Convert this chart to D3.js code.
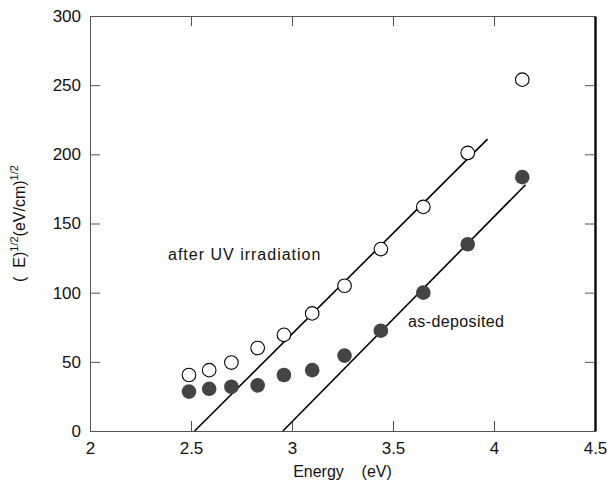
<!DOCTYPE html>
<html>
  <head>
    <meta charset="utf-8">
    <title>Absorption edge</title>
    <script src="https://cdn.jsdelivr.net/npm/d3@7"></script>
    <style>
      body { margin: 0; background: #fff; }
      text { font-family: "Liberation Sans", Arial, Helvetica, sans-serif; fill: #111; }
    </style>
  </head>
  <body>
    <div id="chart"></div>
    <script>
      // photon energy (eV) of each measured point
      var energy = [2.49, 2.59, 2.70, 2.83, 2.96, 3.10, 3.26, 3.44, 3.65, 3.87, 4.14];
      // (aE)^1/2 values
      var afterUV = [40.5, 44, 49.5, 60, 69.5, 85, 105, 131.5, 162, 201, 254];
      var asDeposited = [28.5, 30.5, 32, 33, 40.5, 44, 54.5, 72.5, 100, 135, 183.5];
      // straight line fits [energy, value]
      var fitUV = [[2.518, 0], [3.968, 211]];
      var fitAs = [[2.955, 0], [4.156, 178]];
      var xTicks = [2, 2.5, 3, 3.5, 4, 4.5];
      var yTicks = [0, 50, 100, 150, 200, 250, 300];

      var W = 607, H = 490;
      var m = {left: 90, right: 12, top: 16, bottom: 59};

      var svg = d3.select("#chart").append("svg")
          .attr("width", W).attr("height", H);

      var x = d3.scaleLinear().domain([2, 4.5]).range([m.left, W - m.right]);
      var y = d3.scaleLinear().domain([0, 300]).range([H - m.bottom, m.top]);

      function styleAxis(g) {
        g.selectAll("path.domain").attr("stroke", "#555");
        g.selectAll(".tick line").attr("stroke", "#555");
        g.selectAll("text").attr("font-size", 17).attr("fill", "#111")
          .attr("font-family", "'Liberation Sans', Arial, sans-serif");
      }

      // bottom
      svg.append("g")
        .attr("transform", "translate(0," + y(0) + ")")
        .call(d3.axisBottom(x).tickValues(xTicks).tickFormat(d3.format("")).tickSize(-10).tickSizeOuter(0).tickPadding(11))
        .call(styleAxis);
      // left
      svg.append("g")
        .attr("transform", "translate(" + x(2) + ",0)")
        .call(d3.axisLeft(y).tickValues(yTicks).tickSize(-10).tickSizeOuter(0).tickPadding(9))
        .call(styleAxis);
      // top
      svg.append("g")
        .attr("transform", "translate(0," + y(300) + ")")
        .call(d3.axisTop(x).tickValues([2.5, 3, 3.5, 4]).tickFormat("").tickSize(-10).tickSizeOuter(0))
        .call(styleAxis);
      // right
      svg.append("g")
        .attr("transform", "translate(" + x(4.5) + ",0)")
        .call(d3.axisRight(y).tickValues([50, 100, 150, 200, 250]).tickFormat("").tickSize(-10).tickSizeOuter(0))
        .call(styleAxis)
        .select("path.domain").attr("stroke", "#111").attr("stroke-width", 2.5);

      // fit lines
      var line = d3.line().x(function (d) { return x(d[0]); }).y(function (d) { return y(d[1]); });
      [fitUV, fitAs].forEach(function (f) {
        svg.append("path").attr("d", line(f))
          .attr("fill", "none").attr("stroke", "#000").attr("stroke-width", 1.6);
      });

      // points
      svg.append("g").selectAll("circle")
        .data(energy).enter().append("circle")
        .attr("cx", function (d) { return x(d); })
        .attr("cy", function (d, i) { return y(afterUV[i]); })
        .attr("r", 6.8)
        .attr("fill", "#fff").attr("stroke", "#000").attr("stroke-width", 1.1);

      svg.append("g").selectAll("circle")
        .data(energy).enter().append("circle")
        .attr("cx", function (d) { return x(d); })
        .attr("cy", function (d, i) { return y(asDeposited[i]); })
        .attr("r", 7.3)
        .attr("fill", "#444");

      // annotations
      svg.append("text").attr("x", 168).attr("y", 260)
        .attr("font-size", 16).attr("letter-spacing", 1).text("after UV irradiation");
      svg.append("text").attr("x", 408).attr("y", 327)
        .attr("font-size", 16).attr("letter-spacing", 0.4).text("as-deposited");

      // axis titles
      svg.append("text").attr("x", (m.left + W - m.right) / 2).attr("y", 477)
        .attr("text-anchor", "middle").attr("font-size", 16)
        .attr("xml:space", "preserve").text("Energy    (eV)");

      var yl = svg.append("text")
        .attr("transform", "translate(25," + y(150) + ") rotate(-90)")
        .attr("text-anchor", "middle").attr("font-size", 16)
        .attr("xml:space", "preserve");
      yl.append("tspan").text("(  E)");
      yl.append("tspan").attr("dy", -7).attr("font-size", 11).text("1/2");
      yl.append("tspan").attr("dy", 7).text("(eV/cm)");
      yl.append("tspan").attr("dy", -7).attr("font-size", 11).text("1/2");
    </script>
  </body>
</html>
